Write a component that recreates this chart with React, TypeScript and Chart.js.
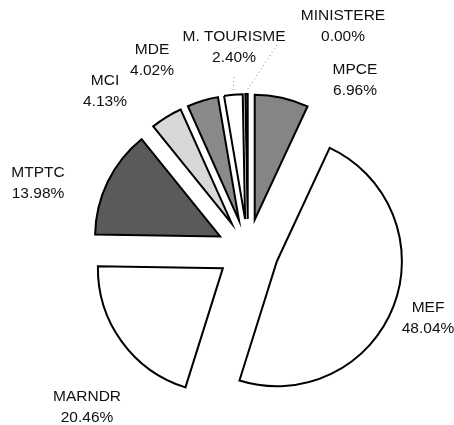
import React, { useEffect, useRef } from "react";
import { Chart, registerables } from "chart.js";

Chart.register(...registerables);

// ---- data ----
const names = ["MPCE", "MEF", "MARNDR", "MTPTC", "MCI", "MDE", "M. TOURISME", "MINISTERE"];
const values = [6.96, 48.04, 20.46, 13.98, 4.13, 4.02, 2.4, 0.3];
const pctLabels = ["6.96%", "48.04%", "20.46%", "13.98%", "4.13%", "4.02%", "2.40%", "0.00%"];

// ---- styles / layout ----
const fills = ["#858585", "#ffffff", "#ffffff", "#5a5a5a", "#d8d8d8", "#8a8a8a", "#ffffff", "#9a9a9a"];
const EXPLODE = 31;
const RADIUS = 125;
// label first-line centre, relative to pie centre
const labelOffsets: [number, number][] = [
  [107, -180],
  [180, 58],
  [-161, 147],
  [-210, -77],
  [-143, -169],
  [-96, -200],
  [-14, -213],
  [95, -234],
];
// leader line start relative to pie centre (null = none)
const leaderStarts: ([number, number] | null)[] = [null, null, null, null, null, null, [-14, -173], [29, -205]];

const FONT = "15.5px 'Liberation Sans', Arial, sans-serif";

const explodePlugin = {
  id: "explode",
  beforeDatasetsDraw(chart: any) {
    const ctx = chart.ctx;
    const meta = chart.getDatasetMeta(0);
    meta.data.forEach((el: any) => {
      const mid = (el.startAngle + el.endAngle) / 2;
      ctx.save();
      ctx.translate(Math.cos(mid) * EXPLODE, Math.sin(mid) * EXPLODE);
      el.draw(ctx, chart.chartArea);
      ctx.restore();
    });
    return false;
  },
  afterDraw(chart: any) {
    const ctx = chart.ctx;
    const meta = chart.getDatasetMeta(0);
    const el0: any = meta.data[0];
    const cx = el0.x;
    const cy = el0.y;
    ctx.save();
    // leaders
    meta.data.forEach((el: any, i: number) => {
      const s = leaderStarts[i];
      if (!s) return;
      const mid = (el.startAngle + el.endAngle) / 2;
      const d = EXPLODE + el.outerRadius + 3;
      ctx.beginPath();
      ctx.strokeStyle = "#888";
      ctx.lineWidth = 1;
      ctx.setLineDash([1, 3]);
      ctx.moveTo(cx + s[0], cy + s[1]);
      ctx.lineTo(cx + Math.cos(mid) * d, cy + Math.sin(mid) * d);
      ctx.stroke();
    });
    ctx.setLineDash([]);
    ctx.fillStyle = "#111";
    ctx.font = FONT;
    ctx.textAlign = "center";
    ctx.textBaseline = "middle";
    names.forEach((n, i) => {
      const [dx, dy] = labelOffsets[i];
      ctx.fillText(n, cx + dx, cy + dy);
      ctx.fillText(pctLabels[i], cx + dx, cy + dy + 20.5);
    });
    ctx.restore();
  },
};

export default function App() {
  const ref = useRef<HTMLCanvasElement | null>(null);
  useEffect(() => {
    if (!ref.current) return;
    const chart = new Chart(ref.current, {
      type: "pie",
      data: {
        labels: names,
        datasets: [
          {
            data: values,
            backgroundColor: fills,
            borderColor: "#000",
            borderWidth: 2,
            borderJoinStyle: "miter",
          } as any,
        ],
      },
      options: {
        responsive: false,
        animation: false,
        devicePixelRatio: 1,
        radius: RADIUS,
        layout: { padding: { left: 42, top: 75, right: 0, bottom: 0 } },
        plugins: {
          legend: { display: false },
          tooltip: { enabled: false },
        },
      } as any,
      plugins: [explodePlugin],
    });
    return () => chart.destroy();
  }, []);
  return (
    <div style={{ position: "fixed", left: 0, top: 0, width: 454, height: 425, background: "#fff" }}>
      <canvas ref={ref} width={454} height={425} style={{ display: "block" }} />
    </div>
  );
}
